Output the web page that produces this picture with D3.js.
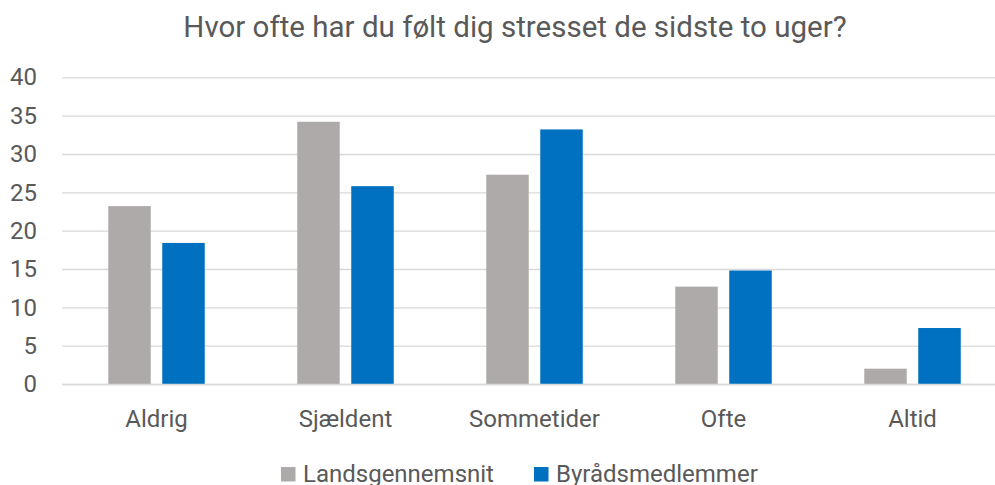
<!DOCTYPE html>
<html>
<head>
<meta charset="utf-8">
<script src="https://cdn.jsdelivr.net/npm/d3@7"></script>
<style>
  html, body { margin: 0; padding: 0; background: #fff; }
  svg { display: block; font-family: Roboto, "Noto Sans", sans-serif; }
</style>
</head>
<body>
<svg id="chart" width="995" height="485"></svg>
<script>
const categories = ["Aldrig", "Sjældent", "Sommetider", "Ofte", "Altid"];
const seriesNames = ["Landsgennemsnit", "Byrådsmedlemmer"];
const landsgennemsnit = [23.2, 34.2, 27.3, 12.7, 2.0];
const byraadsmedlemmer = [18.4, 25.8, 33.2, 14.8, 7.3];
const yTicks = [0, 5, 10, 15, 20, 25, 30, 35, 40];
const colors = ["#AEAAAA", "#0070C0"];
const title = "Hvor ofte har du følt dig stresset de sidste to uger?";

const values = [landsgennemsnit, byraadsmedlemmer];
const data = categories.map((c, i) => ({ cat: c, vals: seriesNames.map((s, j) => ({ s, v: values[j][i] })) }));

const svg = d3.select("#chart");
const textColor = "#595959";
const fontFam = 'Roboto, "Noto Sans", sans-serif';

const x = d3.scaleBand().domain(categories).range([62, 1007]).paddingInner(0).paddingOuter(0);
const y = d3.scaleLinear().domain([0, 40]).range([384, 77.3]);
const groupW = 96.5;
const x1 = d3.scaleBand().domain(seriesNames)
  .range([x.bandwidth() / 2 - groupW / 2, x.bandwidth() / 2 + groupW / 2])
  .paddingInner(0.213).paddingOuter(0);

// Gridlines
const yAxis = d3.axisLeft(y).tickValues(yTicks).tickSize(-(1007 - 62)).tickPadding(25);
const gy = svg.append("g").attr("transform", "translate(62,0)").call(yAxis)
  .attr("font-family", fontFam);
gy.select(".domain").remove();
gy.selectAll(".tick line").attr("stroke", "#D9D9D9").attr("stroke-width", 1.3);
gy.selectAll(".tick text").attr("fill", textColor).attr("font-size", 24);

// Bars
const groups = svg.append("g").selectAll("g").data(data).join("g")
  .attr("transform", d => `translate(${x(d.cat)},0)`);
groups.selectAll("rect").data(d => d.vals).join("rect")
  .attr("x", d => x1(d.s))
  .attr("width", x1.bandwidth())
  .attr("y", d => y(d.v))
  .attr("height", d => y(0) - y(d.v))
  .attr("fill", (d, i) => colors[i]);

// X axis
const xAxis = d3.axisBottom(x).tickSize(0).tickPadding(26);
const gx = svg.append("g").attr("transform", `translate(0,${y(0)})`).call(xAxis)
  .attr("font-family", fontFam);
gx.select(".domain").attr("stroke", "#D9D9D9").attr("stroke-width", 1.3);
gx.selectAll(".tick text").attr("fill", textColor).attr("font-size", 24);

// Title
svg.append("text").attr("x", 515).attr("y", 37).attr("text-anchor", "middle")
  .attr("fill", textColor).attr("font-size", 29.5).text(title);

// Legend
const legendX = [281, 534];
const lg = svg.append("g").selectAll("g").data(seriesNames).join("g")
  .attr("transform", (d, i) => `translate(${legendX[i]},467)`);
lg.append("rect").attr("width", 14.5).attr("height", 14.5).attr("fill", (d, i) => colors[i]);
lg.append("text").attr("x", 22).attr("y", 15).attr("fill", textColor).attr("font-size", 24).text(d => d);
</script>
</body>
</html>
